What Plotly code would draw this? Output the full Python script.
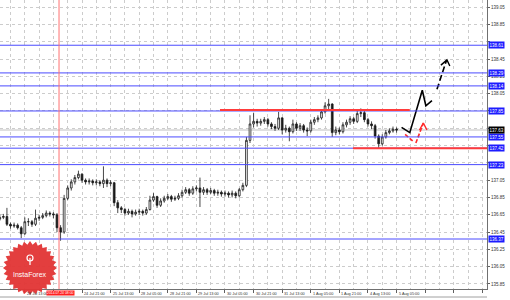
import numpy as np
import plotly.graph_objects as go

# ---------------- data (EUR/JPY, H2 bars) ----------------
bar_idx = list(range(1, 113))
opens = [136.60,136.62,136.63,136.54,136.52,136.53,136.50,136.43,136.57,136.57,
         136.54,136.61,136.62,136.64,136.67,136.66,136.65,136.50,136.45,136.84,
         136.96,137.03,137.08,137.12,137.05,137.03,137.04,137.02,137.03,137.01,
         137.05,137.01,137.02,136.79,136.73,136.71,136.67,136.69,136.66,136.68,
         136.69,136.67,136.71,136.82,136.86,136.76,136.81,136.84,136.86,136.83,
         136.84,136.87,136.91,136.94,136.90,136.95,136.96,136.91,136.94,136.91,
         136.93,136.90,136.91,136.89,136.90,136.88,136.90,136.87,136.94,136.99,
         137.51,137.70,137.73,137.71,137.73,137.75,137.70,137.67,137.65,137.77,
         137.63,137.65,137.61,137.70,137.65,137.68,137.63,137.62,137.72,137.75,
         137.77,137.84,137.91,137.93,137.60,137.63,137.61,137.69,137.72,137.76,
         137.73,137.82,137.83,137.75,137.70,137.68,137.56,137.47,137.55,137.60,
         137.62,137.64]
highs = [136.65,136.66,136.73,136.56,136.56,136.55,136.52,136.62,136.61,136.59,
         136.71,136.65,136.67,136.70,136.69,136.68,136.67,136.53,136.88,136.99,
         137.06,137.11,137.16,137.13,137.07,137.07,137.06,137.06,137.05,137.21,
         137.07,137.05,137.03,136.82,136.75,136.73,136.72,136.71,136.71,136.72,
         136.71,136.74,136.87,136.90,136.87,136.84,136.87,136.89,136.88,136.87,
         136.90,136.94,136.97,136.96,136.98,136.99,137.08,136.97,136.96,136.96,
         136.95,136.94,136.93,136.93,136.92,136.93,136.92,136.96,137.02,137.55,
         137.80,137.83,137.76,137.76,137.78,137.77,137.72,137.70,137.84,137.78,
         137.69,137.67,137.75,137.72,137.71,137.70,137.66,137.75,137.78,137.80,
         137.87,137.95,137.99,137.94,137.67,137.66,137.72,137.75,137.79,137.78,
         137.87,137.88,137.85,137.77,137.73,137.70,137.58,137.58,137.63,137.65,
         137.67,137.66]
lows = [136.58,136.60,136.52,136.49,136.50,136.48,136.38,136.42,136.52,136.51,
        136.52,136.58,136.60,136.62,136.63,136.61,136.45,136.35,136.43,136.82,
        136.93,137.00,137.06,137.02,137.00,137.00,136.99,136.99,136.98,136.96,
        136.97,136.98,136.75,136.67,136.67,136.64,136.65,136.62,136.64,136.65,
        136.64,136.65,136.70,136.80,136.73,136.74,136.79,136.82,136.80,136.81,
        136.82,136.85,136.89,136.87,136.88,136.92,136.74,136.88,136.88,136.89,
        136.87,136.87,136.86,136.86,136.85,136.85,136.84,136.85,136.92,136.97,
        137.48,137.66,137.67,137.68,137.70,137.67,137.64,137.62,137.63,137.58,
        137.60,137.50,137.59,137.62,137.62,137.60,137.56,137.60,137.69,137.72,
        137.75,137.82,137.86,137.55,137.57,137.58,137.59,137.66,137.69,137.70,
        137.71,137.78,137.72,137.67,137.64,137.53,137.42,137.45,137.53,137.58,
        137.60,137.60]
closes = [136.62,136.63,136.54,136.52,136.53,136.50,136.43,136.57,136.57,136.54,
          136.61,136.62,136.64,136.67,136.66,136.65,136.50,136.45,136.84,136.96,
          137.03,137.08,137.12,137.05,137.03,137.04,137.02,137.03,137.01,137.05,
          137.01,137.02,136.79,136.73,136.71,136.67,136.69,136.66,136.68,136.69,
          136.67,136.71,136.82,136.86,136.76,136.81,136.84,136.86,136.83,136.84,
          136.87,136.91,136.94,136.90,136.95,136.96,136.91,136.94,136.91,136.93,
          136.90,136.91,136.89,136.90,136.88,136.90,136.87,136.94,136.99,137.51,
          137.70,137.73,137.71,137.73,137.75,137.70,137.67,137.65,137.77,137.63,
          137.65,137.61,137.70,137.65,137.68,137.63,137.62,137.72,137.75,137.77,
          137.84,137.91,137.93,137.60,137.63,137.61,137.69,137.72,137.76,137.73,
          137.82,137.83,137.75,137.70,137.68,137.56,137.47,137.55,137.60,137.62,
          137.64,137.63]

# time labels (the 24 Jul 05:00 label is hidden under the red vertical-line label)
time_tick_idx = [0, 8, 24, 32, 40, 48, 56, 64, 72, 80, 88, 96, 104, 112]
time_tick_text = ["22 Jul 21:00", "23 Jul 13:00", "24 Jul 21:00",
                  "25 Jul 13:00", "28 Jul 05:00", "28 Jul 21:00", "29 Jul 13:00",
                  "30 Jul 05:00", "30 Jul 21:00", "31 Jul 13:00", "1 Aug 05:00",
                  "1 Aug 21:00", "4 Aug 13:00", "5 Aug 05:00"]

price_ticks = [135.85, 136.05, 136.25, 136.45, 136.65, 136.85, 137.05, 137.25, 137.45,
               137.65, 137.85, 138.05, 138.25, 138.45, 138.65, 138.85, 139.05]
price_tick_text = ["135.85", "136.05", "136.25", "136.45", "136.65", "136.85", "137.05", "",
                   "", "", "", "138.05", "138.25", "138.45", "", "138.85", "139.05"]

blue_levels = [138.61, 138.29, 138.14, 137.85, 137.55, 137.42, 137.23, 136.37]
current_price = 137.63

resist_level = 137.86
resist_from, resist_to = 62.6, 115.7
support_level = 137.42
support_from, support_to = 99.8, 140.0

vline_idx = 17.57
vline_label = "2014.07.24 08:00"

# forecast drawings (index, price)
black_path_x = [113.4, 115.7, 119.2, 120.2, 121.9]
black_path_y = [137.66, 137.60, 138.09, 137.91, 137.97]
black_dash_x = [123.3, 126.0]
black_dash_y = [138.10, 138.44]
black_head_x = [124.4, 126.1, 126.9]
black_head_y = [138.38, 138.44, 138.37]
red_dash1_x = [114.4, 116.6]
red_dash1_y = [137.58, 137.50]
red_dash2_x = [117.4, 119.5]
red_dash2_y = [137.48, 137.71]
red_head_x = [118.4, 119.5, 120.5]
red_head_y = [137.63, 137.71, 137.63]

# ---------------- figure ----------------
W, H = 510, 300
ML, MR, MT, MB = 0, 23, 0, 11
PW, PH = W - ML - MR, H - MT - MB

fig = go.Figure()

fig.add_trace(go.Candlestick(
    x=bar_idx, open=opens, high=highs, low=lows, close=closes,
    increasing=dict(line=dict(color="#1a1a1a", width=0.8), fillcolor="#ffffff"),
    decreasing=dict(line=dict(color="#1a1a1a", width=0.8), fillcolor="#1a1a1a"),
    whiskerwidth=0, showlegend=False, hoverinfo="skip"))

BLUE = "#4b4bff"
RED = "#ff3b3b"

shapes = []
shapes.append(dict(type="line", xref="paper", x0=0, x1=1, yref="y", y0=current_price, y1=current_price,
                   line=dict(color="#c0c0c0", width=1), layer="below"))
for lv in blue_levels:
    shapes.append(dict(type="line", xref="paper", x0=0, x1=1, yref="y", y0=lv, y1=lv,
                       line=dict(color=BLUE, width=1)))
shapes.append(dict(type="line", xref="x", x0=resist_from, x1=resist_to, yref="y",
                   y0=resist_level, y1=resist_level, line=dict(color=RED, width=2)))
shapes.append(dict(type="line", xref="x", x0=support_from, x1=support_to, yref="y",
                   y0=support_level, y1=support_level, line=dict(color=RED, width=2)))
shapes.append(dict(type="line", xref="x", x0=vline_idx, x1=vline_idx, yref="paper", y0=0, y1=1,
                   line=dict(color="#ff7070", width=1)))

fig.add_trace(go.Scatter(x=black_path_x, y=black_path_y, mode="lines",
                         line=dict(color="#000000", width=1.6), showlegend=False, hoverinfo="skip"))
fig.add_trace(go.Scatter(x=black_dash_x, y=black_dash_y, mode="lines",
                         line=dict(color="#000000", width=1.6, dash="6px,3px"), showlegend=False, hoverinfo="skip"))
fig.add_trace(go.Scatter(x=black_head_x, y=black_head_y, mode="lines",
                         line=dict(color="#000000", width=1.4), showlegend=False, hoverinfo="skip"))
fig.add_trace(go.Scatter(x=red_dash1_x, y=red_dash1_y, mode="lines",
                         line=dict(color="#ff2a2a", width=1.6, dash="4px,2px"), showlegend=False, hoverinfo="skip"))
fig.add_trace(go.Scatter(x=red_dash2_x, y=red_dash2_y, mode="lines",
                         line=dict(color="#ff2a2a", width=1.6, dash="4px,2px"), showlegend=False, hoverinfo="skip"))
fig.add_trace(go.Scatter(x=red_head_x, y=red_head_y, mode="lines",
                         line=dict(color="#ff2a2a", width=1.4), showlegend=False, hoverinfo="skip"))

def px(xp):
    return (xp - ML) / PW
def py(yp):
    return (MT + PH - yp) / PH

cx, cy, r_out, r_in, n = 30, 268, 27, 23.5, 28
ang = np.linspace(0, 2 * np.pi, 2 * n, endpoint=False)
rad = np.where(np.arange(2 * n) % 2 == 0, r_out, r_in)
pts = [(px(cx + r * np.cos(a)), py(cy + r * np.sin(a))) for r, a in zip(rad, ang)]
path = "M " + " L ".join(f"{a:.5f},{b:.5f}" for a, b in pts) + " Z"
shapes.append(dict(type="path", xref="paper", yref="paper", path=path,
                   fillcolor="rgba(226,52,52,0.95)", line=dict(width=0), layer="above"))
shapes.append(dict(type="circle", xref="paper", yref="paper",
                   x0=px(cx - 3), x1=px(cx + 3), y0=py(cy - 13), y1=py(cy - 7),
                   line=dict(color="white", width=1.2), layer="above"))
shapes.append(dict(type="line", xref="paper", yref="paper",
                   x0=px(cx), x1=px(cx), y0=py(cy - 10), y1=py(cy - 3),
                   line=dict(color="white", width=1.2), layer="above"))
shapes.append(dict(type="line", xref="paper", yref="paper", x0=0, x1=1,
                   y0=py(297), y1=py(297), line=dict(color="#a0a0a0", width=1)))

annotations = []
annotations.append(dict(xref="paper", yref="paper", x=px(cx), y=py(cy + 6), text="InstaForex",
                        showarrow=False, font=dict(family="Liberation Sans, Arial", size=7, color="white"),
                        xanchor="center", yanchor="middle"))
for ti, tt in zip(time_tick_idx, time_tick_text):
    annotations.append(dict(xref="x", yref="paper", x=ti, y=0, text=tt, showarrow=False,
                            xanchor="left", yanchor="top", xshift=0, yshift=-1,
                            font=dict(family="Liberation Sans, Arial", size=3.8, color="#333333")))
annotations.append(dict(xref="x", yref="paper", x=vline_idx, y=0, text=vline_label, showarrow=False,
                        xanchor="center", yanchor="top", yshift=-1, xshift=1, bgcolor="#ff2020", borderpad=0,
                        font=dict(family="Liberation Sans, Arial", size=3.4, color="white")))
for lv in blue_levels:
    annotations.append(dict(xref="paper", yref="y", x=1, y=lv, text=f"{lv:.2f}", showarrow=False,
                            xanchor="left", yanchor="middle", xshift=1, bgcolor="#1c1cff", borderpad=0.5,
                            font=dict(family="Liberation Sans, Arial", size=4.5, color="white")))
annotations.append(dict(xref="paper", yref="y", x=1, y=current_price, text=f"{current_price:.2f}",
                        showarrow=False, xanchor="left", yanchor="middle", xshift=1, bgcolor="#000000",
                        borderpad=0.5, font=dict(family="Liberation Sans, Arial", size=4.5, color="white")))

fig.update_layout(
    width=W, height=H, margin=dict(l=ML, r=MR, t=MT, b=MB),
    paper_bgcolor="white", plot_bgcolor="white",
    shapes=shapes, annotations=annotations, showlegend=False,
    xaxis=dict(range=[1.06, 137.3], rangeslider=dict(visible=False),
               tickmode="linear", tick0=0, dtick=8, ticks="outside", ticklen=3,
               tickcolor="#606060", showticklabels=False,
               showgrid=True, gridcolor="#cccccc", griddash="dot", gridwidth=1,
               minor=dict(tick0=0, dtick=4, showgrid=True, gridcolor="#cccccc", griddash="dot", ticks=""),
               showline=True, linecolor="#707070", linewidth=1, zeroline=False),
    yaxis=dict(range=[135.792, 139.133], side="right",
               tickmode="array", tickvals=price_ticks, ticktext=price_tick_text,
               ticks="outside", ticklen=2, tickcolor="#606060",
               tickfont=dict(family="Liberation Sans, Arial", size=4.5, color="#333333"),
               showgrid=True, gridcolor="#cccccc", griddash="dot", gridwidth=1,
               showline=True, linecolor="#707070", linewidth=1, zeroline=False),
)

fig.write_html("out.html")
